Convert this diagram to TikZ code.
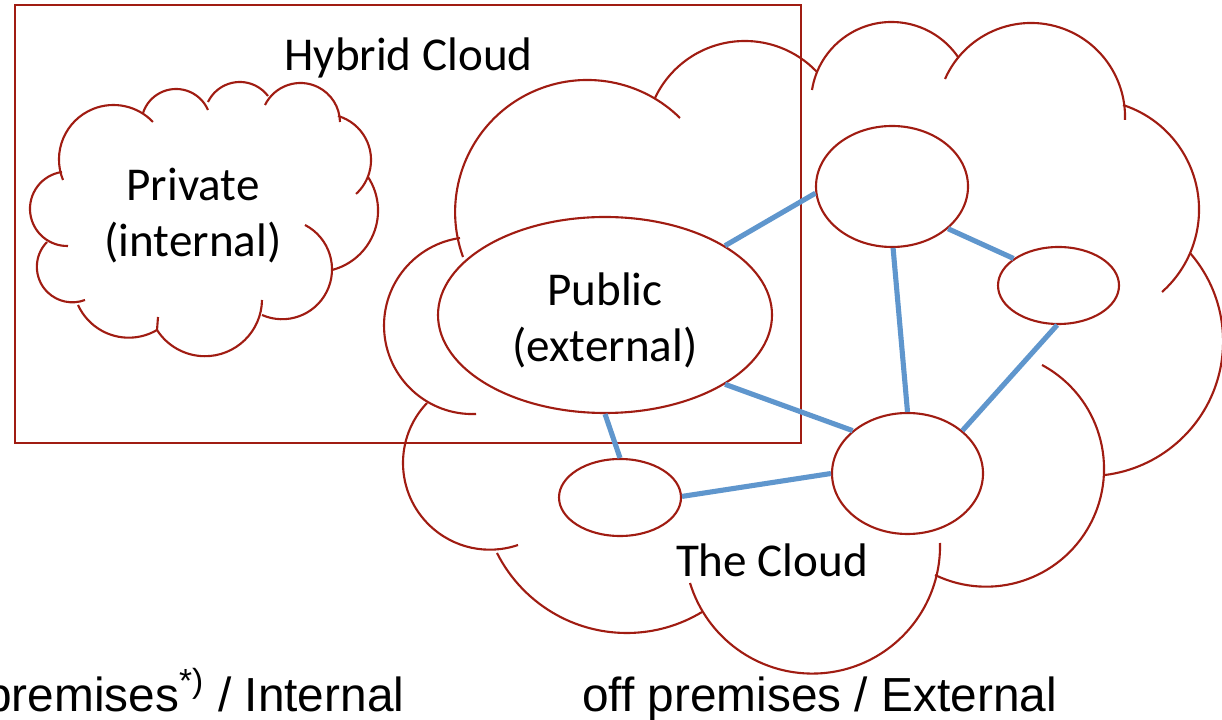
\documentclass[tikz,border=0pt]{standalone}
\usepackage{fontspec}
\setmainfont{Carlito}
\newfontfamily\arialfont{Liberation Sans}
\usetikzlibrary{shapes.geometric}
\definecolor{cloudred}{RGB}{160,28,18}
\definecolor{linkblue}{RGB}{95,150,205}
% arc through three points given in pixels (x right, y down)
\newcommand\ckarc[6]{%
 \pgfmathsetmacro\ckAx{(#1)/100}%
 \pgfmathsetmacro\ckAy{-(#2)/100}%
 \pgfmathsetmacro\ckBx{((#3)-(#1))/100}%
 \pgfmathsetmacro\ckBy{((#2)-(#4))/100}%
 \pgfmathsetmacro\ckCx{((#5)-(#1))/100}%
 \pgfmathsetmacro\ckCy{((#2)-(#6))/100}%
 \pgfmathsetmacro\ckD{2*((\ckBx)*(\ckCy)-(\ckBy)*(\ckCx))}%
 \pgfmathsetmacro\ckB{(\ckBx)*(\ckBx)+(\ckBy)*(\ckBy)}%
 \pgfmathsetmacro\ckC{(\ckCx)*(\ckCx)+(\ckCy)*(\ckCy)}%
 \pgfmathsetmacro\ckUx{((\ckCy)*(\ckB)-(\ckBy)*(\ckC))/(\ckD)}%
 \pgfmathsetmacro\ckUy{((\ckBx)*(\ckC)-(\ckCx)*(\ckB))/(\ckD)}%
 \pgfmathsetmacro\ckR{veclen(\ckUx,\ckUy)}%
 \pgfmathsetmacro\ckSa{atan2(-(\ckUy),-(\ckUx))}%
 \pgfmathsetmacro\ckSb{atan2((\ckBy)-(\ckUy),(\ckBx)-(\ckUx))}%
 \pgfmathsetmacro\ckSc{atan2((\ckCy)-(\ckUy),(\ckCx)-(\ckUx))}%
 \pgfmathsetmacro\ckDb{Mod((\ckSb)-(\ckSa),360)}%
 \pgfmathsetmacro\ckDc{Mod((\ckSc)-(\ckSa),360)}%
 \pgfmathsetmacro\ckSw{(\ckDb)<(\ckDc) ? (\ckDc) : (\ckDc)-360}%
 \draw[cloudline] (\ckAx,\ckAy) arc[start angle=\ckSa, delta angle=\ckSw, radius=\ckR];%
}
\begin{document}
\begin{tikzpicture}[
  cloudline/.style={draw=cloudred, line width=0.6pt},
  bubble/.style={ellipse, draw=cloudred, line width=0.6pt, fill=white, inner sep=0pt},
  link/.style={draw=linkblue, line width=1.45pt},
  lbl/.style={font=\fontsize{13.4}{15.9}\selectfont, inner sep=0pt, align=center},
  foot/.style={font=\arialfont\fontsize{13.6}{16}\selectfont, inner sep=0pt},
]
\useasboundingbox (0,0) rectangle (12.22,-7.20);
\fill[white] (0,0) rectangle (12.22,-7.20);

% big cloud (The Cloud)
\ckarc{476}{414}{384}{325}{460}{238}
\ckarc{463}{257}{590}{80}{680}{118}
\ckarc{655}{98}{747}{41}{817}{72}
\ckarc{812}{90}{892}{22}{958}{57}
\ckarc{945}{79}{1032}{23}{1125}{120}
\ckarc{1123}{105}{1199}{210}{1162}{292}
\ckarc{1190}{253}{1220}{370}{1105}{475}
\ckarc{1042}{365}{1104}{470}{935}{575}
\ckarc{940}{543}{800}{673}{690}{583}
\ckarc{702}{612}{627}{633}{497}{553}
\ckarc{427}{403}{403}{463}{518}{545}

% small cloud (Private)
\ckarc{63}{180}{113}{105}{153}{122}
\ckarc{143}{113}{177}{89}{208}{110}
\ckarc{208}{102}{240}{82}{268}{96}
\ckarc{265}{105}{300}{83}{340}{122}
\ckarc{338}{116}{371}{158}{356}{194}
\ckarc{368}{177}{378}{213}{332}{270}
\ckarc{305}{225}{332}{268}{262}{315}
\ckarc{262}{300}{210}{356}{157}{330}
\ckarc{157}{330}{120}{337}{78}{305}
\ckarc{47}{242}{37}{270}{85}{300}
\ckarc{62}{172}{30}{210}{68}{246}
\draw[cloudline] (1.57,-3.30) -- (1.58,-3.17);

% hybrid rectangle
\node[draw=cloudred, line width=0.6pt, minimum width=7.86cm, minimum height=4.38cm, inner sep=0pt] (hybrid) at (4.08,-2.24) {};

% ellipses
\node[bubble, minimum width=3.34cm, minimum height=1.96cm] (pub) at (6.05,-3.15) {};
\node[bubble, minimum width=1.52cm, minimum height=1.21cm] (tr) at (8.92,-1.865) {};
\node[bubble, minimum width=1.21cm, minimum height=0.77cm] (rs) at (10.585,-2.855) {};
\node[bubble, minimum width=1.51cm, minimum height=1.21cm] (bc) at (9.075,-4.735) {};
\node[bubble, minimum width=1.22cm, minimum height=0.77cm] (sb) at (6.20,-4.975) {};

% links
\draw[link] (pub.30.7) -- (tr.185);
\draw[link] (pub.-30.2) -- (bc.142);
\draw[link] (pub.-90) -- (sb.90);
\draw[link] (sb.1) -- (bc.180);
\draw[link] (tr.-89) -- (bc.90);
\draw[link] (tr.-37.7) -- (rs.149.6);
\draw[link] (rs.-92) -- (bc.38.5);

% labels
\node[lbl, anchor=base] (hyb) at (4.085,-0.71) {Hybrid Cloud};
\node[lbl] (priv) at (1.93,-2.16) {Private\\(internal)};
\node[lbl] (publbl) at (6.05,-3.20) {Public\\(external)};
\node[lbl, anchor=base] (thecloud) at (7.72,-5.77) {The Cloud};
\node[foot, anchor=base east] (onprem) at (4.05,-7.11) {premises\textsuperscript{*)} / Internal};
\node[foot, anchor=base] (offprem) at (8.195,-7.11) {off premises / External};
\end{tikzpicture}
\end{document}
